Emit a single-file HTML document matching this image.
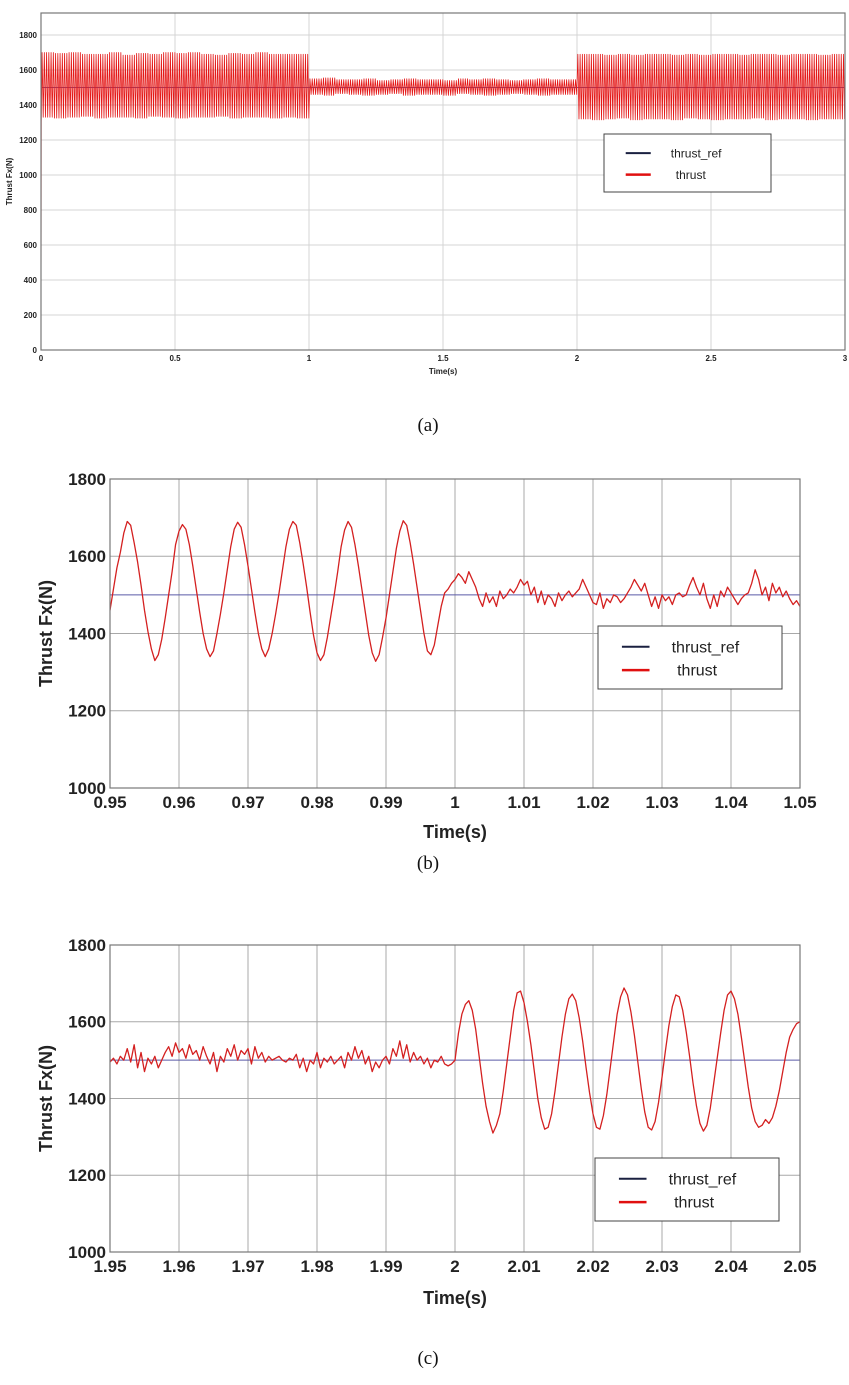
<!DOCTYPE html>
<html><head><meta charset="utf-8">
<style>
html,body{margin:0;padding:0;background:#fff;}
body{width:849px;height:1385px;position:relative;overflow:hidden;}
svg{position:absolute;left:0;top:0;}
text{font-family:"Liberation Sans",Arial,sans-serif;}
.cap{font-family:"Liberation Serif","Times New Roman",serif;font-size:19px;}
</style></head>
<body>
<svg id="chart" width="849" height="1385"></svg>
<script>
// ---------- DATA ----------
const aEnvTimes = [0, 0.05, 3.0];
const aUpper = [1700,1695,1700,1690,1690,1700,1685,1695,1690,1700,1695,1700,1690,1685,1695,1690,1700,1690,1690,1690,
  1550,1555,1545,1545,1550,1540,1545,1550,1545,1545,1540,1550,1545,1550,1545,1540,1545,1550,1545,1545,
  1690,1690,1685,1690,1685,1690,1690,1685,1690,1685,1690,1690,1685,1690,1690,1685,1690,1690,1685,1690,1690];
const aLower = [1330,1325,1330,1335,1325,1330,1330,1325,1335,1330,1325,1330,1330,1335,1325,1330,1330,1325,1330,1325,
  1460,1455,1465,1460,1455,1460,1465,1455,1460,1460,1455,1465,1460,1455,1460,1465,1460,1455,1460,1460,
  1320,1315,1320,1325,1315,1320,1320,1315,1325,1320,1315,1320,1320,1325,1315,1320,1320,1315,1320,1320,1320];
const aRef = 1500;
const aYTicks = [0,200,400,600,800,1000,1200,1400,1600,1800];
const aXTicks = [0,0.5,1,1.5,2,2.5,3];

const bStart = 0.95, bStep = 0.0005;
const bThrust = [1460,1515,1570,1610,1660,1690,1680,1635,1585,1525,1460,1405,1360,1330,1345,1385,1440,
 1500,1560,1630,1665,1682,1670,1630,1575,1515,1455,1400,1360,1340,1355,1400,1450,
 1505,1565,1625,1670,1688,1675,1630,1575,1515,1455,1400,1360,1340,1360,1400,1450,
 1505,1565,1625,1670,1690,1680,1635,1580,1520,1455,1395,1350,1330,1345,1390,1445,1500,
 1560,1625,1668,1690,1675,1630,1575,1515,1455,1395,1350,1328,1345,1390,1440,
 1500,1560,1620,1665,1692,1680,1635,1580,1520,1460,1400,1355,1345,1370,1420,1470,1505,1515,1530,
 1540,1555,1545,1530,1560,1540,1520,1490,1470,1505,1480,1495,1470,1510,1490,1500,1515,1505,1520,1540,
 1525,1535,1500,1520,1480,1510,1475,1500,1490,1470,1505,1485,1500,1510,1495,1505,1515,1540,1520,1500,
 1480,1475,1505,1465,1490,1480,1500,1495,1480,1490,1505,1520,1540,1525,1510,1530,1500,1470,1495,1465,
 1500,1485,1495,1475,1500,1505,1495,1500,1525,1545,1520,1500,1530,1490,1465,1500,1470,1510,1495,1520,
 1505,1490,1475,1490,1500,1505,1530,1565,1540,1500,1520,1485,1530,1505,1520,1495,1510,1490,1475,1485,1470];
const bRef = 1500;
const bYTicks = [1000,1200,1400,1600,1800];
const bXTicks = ["0.95","0.96","0.97","0.98","0.99","1","1.01","1.02","1.03","1.04","1.05"];

const cStart = 1.95, cStep = 0.0005;
const cThrust = [1495,1505,1490,1510,1500,1530,1495,1540,1480,1520,1470,1505,1490,1510,1480,1500,1520,1535,1510,1545,
 1520,1530,1505,1540,1515,1525,1500,1535,1510,1490,1520,1470,1510,1495,1530,1510,1540,1500,1525,1515,
 1530,1490,1535,1505,1520,1495,1510,1500,1505,1510,1500,1495,1505,1500,1515,1480,1505,1470,1500,1490,
 1520,1480,1505,1495,1510,1490,1500,1510,1480,1520,1500,1535,1505,1525,1490,1510,1470,1495,1480,1500,
 1510,1490,1530,1510,1550,1505,1540,1495,1520,1500,1510,1490,1505,1480,1500,1495,1510,1490,1485,1490,
 1500,1570,1620,1645,1655,1630,1580,1510,1440,1380,1340,1310,1330,1360,1420,1490,1560,1630,1675,1680,
 1650,1600,1540,1470,1400,1350,1320,1325,1360,1420,1490,1560,1620,1660,1672,1655,1610,1550,1480,1415,
 1360,1325,1320,1355,1410,1480,1550,1620,1665,1688,1670,1625,1565,1495,1425,1365,1325,1318,1340,1390,
 1455,1525,1590,1640,1670,1665,1630,1575,1510,1440,1380,1335,1315,1330,1375,1440,1505,1570,1630,1670,
 1680,1660,1620,1560,1495,1430,1375,1340,1325,1330,1345,1335,1350,1380,1420,1470,1520,1560,1580,1595,1600];
const cRef = 1500;
const cYTicks = [1000,1200,1400,1600,1800];
const cXTicks = ["1.95","1.96","1.97","1.98","1.99","2","2.01","2.02","2.03","2.04","2.05"];

// ---------- DRAW ----------
const NS = "http://www.w3.org/2000/svg";
const svg = document.getElementById('chart');
function mk(tag, attrs, parent){
  const e = document.createElementNS(NS, tag);
  for (const k in attrs) e.setAttribute(k, attrs[k]);
  (parent||svg).appendChild(e);
  return e;
}

function panel(cfg){
  const g = mk('g', {});
  
  
  const X = t => cfg.x0 + (t - cfg.tmin) / (cfg.tmax - cfg.tmin) * (cfg.x1 - cfg.x0);
  const Y = v => cfg.yb - (v - cfg.vmin) / (cfg.vmax - cfg.vmin) * (cfg.yb - cfg.yv);
  const clipId = cfg.name + '-clip';
  const cp = mk('clipPath', {id: clipId}, g);
  mk('rect', {x: cfg.x0, y: cfg.top, width: cfg.x1 - cfg.x0, height: cfg.yb - cfg.top}, cp);
  cfg.yTicks.forEach(v => {
    const l = mk('line', {x1: cfg.x0, x2: cfg.x1, y1: Y(v), y2: Y(v), stroke: cfg.grid, 'stroke-width': 1}, g);
    
    
    const t = mk('text', {x: cfg.x0 - 4, y: Y(v) + cfg.fs * 0.35, 'text-anchor': 'end', 'font-size': cfg.fs, 'font-weight': 'bold', fill: '#222'}, g);
    t.textContent = v;
    
    
  });
  cfg.xTicks.forEach(s => {
    const tv = parseFloat(s);
    const l = mk('line', {x1: X(tv), x2: X(tv), y1: cfg.top, y2: cfg.yb, stroke: cfg.grid, 'stroke-width': 1}, g);
    
    
    const t = mk('text', {x: X(tv), y: cfg.yb + cfg.fs + 3, 'text-anchor': 'middle', 'font-size': cfg.fs, 'font-weight': 'bold', fill: '#222'}, g);
    t.textContent = s;
    
    
  });
  const rl = mk('line', {x1: cfg.x0, x2: cfg.x1, y1: Y(cfg.ref), y2: Y(cfg.ref), stroke: '#5a5aa8', 'stroke-width': 1}, g);
  
  
  const pts = cfg.points.map(p => X(p[0]).toFixed(2) + ',' + Y(p[1]).toFixed(2)).join(' ');
  const pl = mk('polyline', {points: pts, fill: 'none', stroke: cfg.lineColor, 'stroke-width': cfg.lw, 'clip-path': 'url(#' + clipId + ')', 'stroke-linejoin': 'round'}, g);
  
  
  const fr = mk('rect', {x: cfg.x0, y: cfg.top, width: cfg.x1 - cfg.x0, height: cfg.yb - cfg.top, fill: 'none', stroke: '#777', 'stroke-width': 1.2}, g);
  
  
  const xt = mk('text', {x: (cfg.x0 + cfg.x1) / 2, y: cfg.xtY, 'text-anchor': 'middle', 'font-size': cfg.tfs, 'font-weight': 'bold', fill: '#222'}, g);
  xt.textContent = 'Time(s)';
  
  
  const yt = mk('text', {x: 0, y: 0, 'text-anchor': 'middle', 'font-size': cfg.tfs, 'font-weight': 'bold', fill: '#222', transform: 'translate(' + cfg.ytX + ',' + ((cfg.top + cfg.yb) / 2) + ') rotate(-90)'}, g);
  yt.textContent = 'Thrust Fx(N)';
  
  
  const L = cfg.leg;
  const lg = mk('g', {}, g);
  
  
  mk('rect', {x: L.x, y: L.y, width: L.w, height: L.h, fill: '#fff', stroke: '#444', 'stroke-width': 1}, lg);
  const e1 = mk('line', {x1: L.x + L.w * 0.13, x2: L.x + L.w * 0.28, y1: L.y + L.h * 0.33, y2: L.y + L.h * 0.33, stroke: '#1a2040', 'stroke-width': 2}, lg);
  
  
  const e2 = mk('line', {x1: L.x + L.w * 0.13, x2: L.x + L.w * 0.28, y1: L.y + L.h * 0.7, y2: L.y + L.h * 0.7, stroke: '#e01010', 'stroke-width': 2.5}, lg);
  
  
  const t1 = mk('text', {x: L.x + L.w * 0.4, y: L.y + L.h * 0.33 + L.fs * 0.35, 'font-size': L.fs, fill: '#222'}, lg);
  t1.textContent = 'thrust_ref';
  const t2 = mk('text', {x: L.x + L.w * 0.43, y: L.y + L.h * 0.7 + L.fs * 0.35, 'font-size': L.fs, fill: '#222'}, lg);
  t2.textContent = 'thrust';
}

const aPts = [[0, 0], [0.001, 1300]];
for (let t = 0.004, k = 0; t <= 3.0; t += 0.0042, k++) {
  const i = Math.min(Math.floor(t / aEnvTimes[1] + 1e-9), aUpper.length - 1);
  aPts.push([t, k % 2 === 0 ? aUpper[i] : aLower[i]]);
}
panel({name: 'panel-a', x0: 41, x1: 845, top: 13, yb: 350, yv: 35, tmin: 0, tmax: 3, vmin: 0, vmax: 1800,
  yTicks: aYTicks, xTicks: aXTicks.map(String), ref: aRef, points: aPts, lineColor: '#e41818', lw: 0.8,
  grid: '#d4d4d4', fs: 8, tfs: 8, xtY: 374, ytX: 12,
  leg: {x: 604, y: 134, w: 167, h: 58, fs: 12}});

panel({name: 'panel-b', x0: 110, x1: 800, top: 479, yb: 788, yv: 479, tmin: 0.95, tmax: 1.05, vmin: 1000, vmax: 1800,
  yTicks: bYTicks, xTicks: bXTicks, ref: bRef, points: bThrust.map((v, i) => [bStart + i * bStep, v]),
  lineColor: '#d42020', lw: 1.3, grid: '#a8a8a8', fs: 17, tfs: 18, xtY: 838, ytX: 52,
  leg: {x: 598, y: 626, w: 184, h: 63, fs: 16}});

panel({name: 'panel-c', x0: 110, x1: 800, top: 945, yb: 1252, yv: 945, tmin: 1.95, tmax: 2.05, vmin: 1000, vmax: 1800,
  yTicks: cYTicks, xTicks: cXTicks, ref: cRef, points: cThrust.map((v, i) => [cStart + i * cStep, v]),
  lineColor: '#d42020', lw: 1.3, grid: '#a8a8a8', fs: 17, tfs: 18, xtY: 1304, ytX: 52,
  leg: {x: 595, y: 1158, w: 184, h: 63, fs: 16}});

[['(a)', 428, 431], ['(b)', 428, 869], ['(c)', 428, 1364]].forEach(c => {
  const t = mk('text', {x: c[1], y: c[2], 'text-anchor': 'middle', class: 'cap', fill: '#111'});
  t.textContent = c[0];
  
  
});
</script>
</body></html>
